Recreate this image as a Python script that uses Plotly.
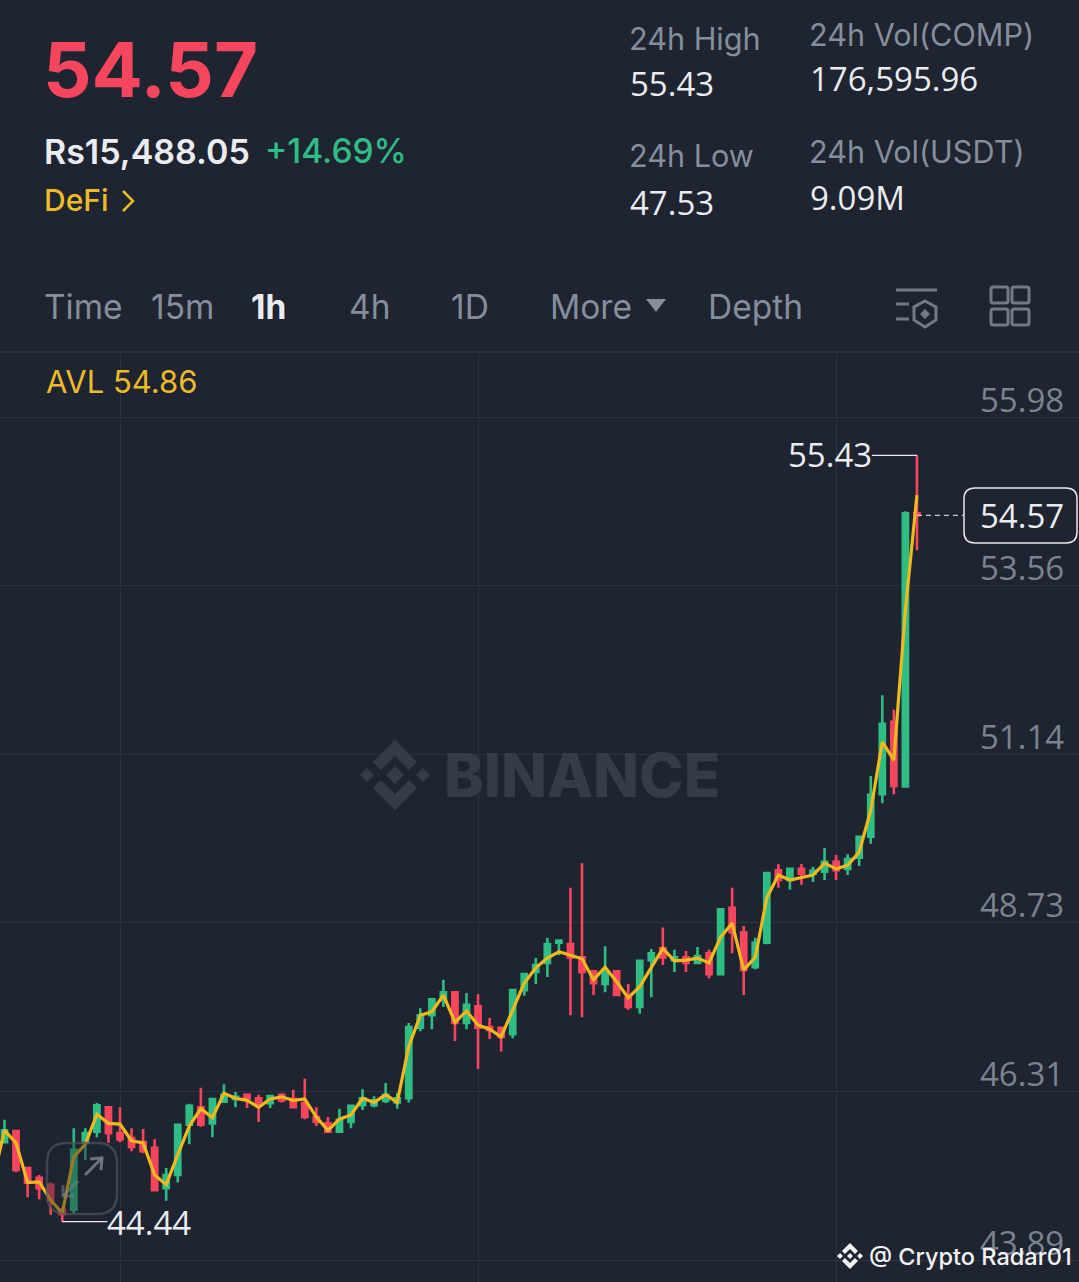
import plotly.graph_objects as go

# ---------- data ----------
candle_index = list(range(80))
open_ = [45.58,45.74,45.21,45.07,44.97,44.61,44.61,45.57,45.73,46.08,45.71,45.64,45.58,45.50,44.92,45.11,45.83,46.08,45.85,46.16,
         46.20,46.26,46.21,46.14,46.26,46.20,46.14,45.94,45.85,45.73,45.87,46.11,46.11,46.17,46.15,46.21,47.22,47.40,47.62,47.73,
         47.29,47.53,47.23,47.22,47.13,47.76,48.02,48.15,48.44,48.42,48.23,48.03,47.85,48.03,47.65,47.52,48.19,48.36,48.19,48.23,
         48.15,48.29,47.99,48.94,48.59,48.09,48.44,49.48,49.34,49.50,49.43,49.46,49.60,49.50,49.66,49.96,50.57,51.61,50.68,54.60]
high = [45.90,45.74,45.22,45.11,45.00,44.64,45.78,45.78,46.14,46.08,46.08,45.78,45.77,45.62,45.21,45.83,46.13,46.36,46.21,46.41,
        46.30,46.27,46.26,46.26,46.28,46.33,46.49,46.08,45.94,46.06,46.11,46.34,46.24,46.43,46.28,47.29,47.50,47.65,47.91,47.73,
        47.72,47.70,47.36,47.22,47.78,47.99,48.22,48.51,48.47,49.23,49.58,48.05,48.39,48.05,47.85,48.19,48.35,48.66,48.34,48.32,
        48.38,48.34,48.92,49.23,48.68,48.51,49.44,49.57,49.50,49.57,49.53,49.80,49.70,49.71,49.96,50.83,51.99,51.78,54.63,55.43]
low = [45.58,45.15,44.79,44.76,44.54,44.44,44.56,45.32,45.65,45.57,45.58,45.45,45.42,44.88,44.74,45.00,45.55,45.80,45.65,46.14,
       46.08,46.07,45.87,46.07,46.15,46.08,45.91,45.81,45.71,45.73,45.78,46.04,46.08,46.14,46.06,46.15,47.17,47.20,47.52,47.03,
       47.20,46.63,47.06,46.88,47.07,47.68,47.85,47.95,48.26,47.40,47.37,47.69,47.73,47.69,47.48,47.42,47.66,48.12,48.02,48.02,
       48.15,47.93,47.98,48.29,47.69,48.06,48.42,49.23,49.20,49.27,49.31,49.34,49.34,49.41,49.54,49.86,50.44,50.57,50.68,54.07]
close = [45.75,45.18,45.00,44.92,44.75,44.55,45.47,45.71,46.11,45.71,45.62,45.51,45.45,44.89,45.11,45.83,46.10,45.83,46.20,46.26,
         46.23,46.21,46.11,46.24,46.18,46.08,45.94,45.87,45.73,45.90,46.10,46.21,46.18,46.26,46.21,47.23,47.40,47.63,47.73,47.29,
         47.55,47.22,47.19,47.09,47.76,47.99,48.12,48.42,48.47,48.23,48.02,47.86,48.03,47.69,47.52,48.18,48.29,48.23,48.23,48.15,
         48.25,47.99,48.92,48.59,48.05,48.44,49.44,49.34,49.50,49.43,49.47,49.60,49.48,49.64,49.96,50.56,51.58,50.69,54.60,54.57]
ma_index = list(range(-1, 80))
ma_values = [45.04,45.75,45.57,45.00,45.01,44.75,44.56,45.37,45.55,45.98,45.85,45.84,45.60,45.57,45.11,44.97,45.40,45.81,46.06,45.93,46.28,
             46.21,46.18,46.08,46.20,46.23,46.18,46.20,45.94,45.75,45.91,45.97,46.21,46.15,46.26,46.15,46.95,47.40,47.45,47.69,47.30,
             47.46,47.26,47.20,47.09,47.48,47.86,48.08,48.22,48.31,48.26,48.21,47.91,48.09,47.88,47.65,47.81,48.09,48.36,48.18,48.19,
             48.22,48.15,48.52,48.72,48.05,48.23,49.08,49.41,49.34,49.38,49.41,49.58,49.50,49.55,49.74,50.34,51.32,51.06,53.21,54.86]
price_ticks = [55.98, 53.56, 51.14, 48.73, 46.31, 43.89]
time_grid = [10, 41, 72]
last_price = 54.57
stats = [("24h High", "55.43", 630, 39, 84), ("24h Low", "47.53", 630, 156, 202),
         ("24h Vol(COMP)", "176,595.96", 810, 35, 79), ("24h Vol(USDT)", "9.09M", 810, 151, 197)]
toolbar = [("Time", 45), ("15m", 152), ("1h", 252), ("4h", 350), ("1D", 452), ("More", 551), ("Depth", 709)]

# ---------- style ----------
W, H = 1079, 1282
BG = "#1e2430"; GRID = "#2d333e"; GREEN = "#2ebd85"; RED = "#f6465d"; YEL = "#edbb2a"
GRAY = "#848e9c"; WHITE = "#eaecef"; FONT = "Inter"; NUM = "Open Sans"

def px(x): return x / W
def py(y): return 1 - y / H

fig = go.Figure()
fig.add_trace(go.Candlestick(x=candle_index, open=open_, high=high, low=low, close=close,
    increasing=dict(line=dict(color=GREEN, width=2.6), fillcolor=GREEN),
    decreasing=dict(line=dict(color=RED, width=2.6), fillcolor=RED),
    whiskerwidth=0, showlegend=False, hoverinfo="skip"))
fig.add_trace(go.Scatter(x=ma_index, y=ma_values, mode="lines",
    line=dict(color="#f0b91e", width=3.2), showlegend=False, hoverinfo="skip"))

ann = []
def text(t, x, y, size, color, anchor="left", weight=400, family=FONT):
    ann.append(dict(text=t, x=px(x - 3), y=py(y), xref="paper", yref="paper", xanchor=anchor, yanchor="middle",
                    showarrow=False, font=dict(family=family, size=size, color=color, weight=weight)))

text("54.57", 44, 69, 76, RED, weight=700)
text("Rs15,488.05", 45, 151, 34, WHITE, weight=600)
text("+14.69%", 266, 151, 33.5, GREEN, weight=500)
text("DeFi", 45, 200, 30, YEL, weight=500)
for label, val, x, y1, y2 in stats:
    text(label, x, y1, 30.6, GRAY)
    text(val, x + 1, y2, 33, WHITE, weight=500, family=NUM)
for label, x in toolbar:
    text(label, x, 307, 33.5, WHITE if label == "1h" else GRAY, weight=700 if label == "1h" else 400)
text("AVL 54.86", 47, 381, 31, YEL)

# price axis labels sit above their grid lines
for v in price_ticks:
    ann.append(dict(text=f"{v:.2f}", x=px(1066), y=v, xref="paper", yref="y", xanchor="right", yanchor="middle",
                    yshift=18, showarrow=False, font=dict(family=NUM, size=33, color="#7b8390")))
# high / low / last labels
i_hi = high.index(max(high)); i_lo = low.index(min(low))
ann.append(dict(text=f"{max(high):.2f}", x=i_hi, y=max(high), xref="x", yref="y", xanchor="right", yanchor="middle",
                xshift=-43, yshift=1, showarrow=False, font=dict(family=NUM, size=33, color=WHITE)))
ann.append(dict(text=f"{min(low):.2f}", x=i_lo, y=min(low), xref="x", yref="y", xanchor="left", yanchor="middle",
                xshift=43, yshift=-1, showarrow=False, font=dict(family=NUM, size=33, color=WHITE)))
ann.append(dict(text=f"{last_price:.2f}", x=px(1066), y=last_price, xref="paper", yref="y", xanchor="right", yanchor="middle",
                showarrow=False, font=dict(family=NUM, size=33, color=WHITE)))
# watermarks
text("BINANCE", 445, 775, 60, "#363c47", weight=800)
text("@ Crypto Radar01", 870, 1256, 23.5, "#f2f2f2", weight=500)

shapes = []
def pline(x0, y0, x1, y1, color, width=2, dash="solid", op=1, layer="above"):
    shapes.append(dict(type="line", xref="paper", yref="paper", x0=px(x0), y0=py(y0), x1=px(x1), y1=py(y1),
                       line=dict(color=color, width=width, dash=dash), opacity=op, layer=layer))
def ppath(points, fill=None, color=None, width=0, op=1, close_=True, layer="above"):
    d = "M " + " L ".join(f"{px(x):.5f},{py(y):.5f}" for x, y in points) + (" Z" if close_ else "")
    shapes.append(dict(type="path", xref="paper", yref="paper", path=d, fillcolor=fill or "rgba(0,0,0,0)",
                       line=dict(color=color or "rgba(0,0,0,0)", width=width), opacity=op, layer=layer))
def prrect(x0, y0, x1, y1, r, fill=None, color=None, width=2, op=1, layer="above"):
    X0, X1, Y0, Y1 = px(x0), px(x1), py(y0), py(y1)
    rx, ry = r / W, r / H
    d = (f"M {X0+rx},{Y0} L {X1-rx},{Y0} Q {X1},{Y0} {X1},{Y0-ry} L {X1},{Y1+ry} Q {X1},{Y1} {X1-rx},{Y1} "
         f"L {X0+rx},{Y1} Q {X0},{Y1} {X0},{Y1+ry} L {X0},{Y0-ry} Q {X0},{Y0} {X0+rx},{Y0} Z")
    shapes.append(dict(type="path", xref="paper", yref="paper", path=d, fillcolor=fill or "rgba(0,0,0,0)",
                       line=dict(color=color or "rgba(0,0,0,0)", width=width), opacity=op, layer=layer))

# separator above the chart
pline(0, 352, 1079, 352, GRID, 2)
# chevron
ppath([(123, 191), (133, 201), (123, 211)], color=YEL, width=2.5, close_=False)
# "More" triangle
ppath([(646, 299), (666, 299), (656, 312)], fill=GRAY)
# depth icon
ICON = "#727a86"
pline(896, 290, 937, 290, ICON, 3)
pline(896, 304, 909, 304, ICON, 3)
pline(896, 319, 909, 319, ICON, 3)
ppath([(925, 301), (936, 307), (936, 320), (925, 327), (914, 320), (914, 307)], color=ICON, width=3)
ppath([(925, 309), (930, 314), (925, 319), (920, 314)], fill=ICON)
# layout icon
for (a, b) in [(991, 287), (1012, 287), (991, 309), (1012, 309)]:
    prrect(a, b, a + 17, b + 16, 2, color=ICON, width=3)

# high / low leader lines and last price dashes, tied to the data
shapes.append(dict(type="line", xref="x", yref="y", x0=i_hi, x1=i_hi - 3.9, y0=max(high), y1=max(high), line=dict(color=WHITE, width=1.3)))
shapes.append(dict(type="line", xref="x", yref="y", x0=i_lo, x1=i_lo + 3.9, y0=min(low), y1=min(low), line=dict(color=WHITE, width=1.3)))
shapes.append(dict(type="line", xref="x", yref="y", x0=79, x1=83.1, y0=last_price, y1=last_price, line=dict(color="#c8ccd2", width=1.3, dash="5px,4px")))
prrect(964, 488, 1077, 543, 11, fill=BG, color="#e6e8ea", width=1.5)

# Binance logo (watermark)
def diamond(cx, cy, r): return [(cx, cy - r), (cx + r, cy), (cx, cy + r), (cx - r, cy)]
LOGO = "#363c47"
ppath(diamond(395, 775, 9), fill=LOGO)
ppath(diamond(367, 775, 7), fill=LOGO)
ppath(diamond(423, 775, 7), fill=LOGO)
ppath([(395, 740), (417, 762), (409, 770), (395, 756), (381, 770), (373, 762)], fill=LOGO)
ppath([(395, 810), (417, 788), (409, 780), (395, 794), (381, 780), (373, 788)], fill=LOGO)
# small logo next to author name
LW = "#f2f2f2"
ppath(diamond(850, 1256, 3), fill=LW)
ppath(diamond(840, 1256, 3), fill=LW)
ppath(diamond(860, 1256, 3), fill=LW)
ppath([(850, 1243), (858, 1251), (855, 1254), (850, 1249), (845, 1254), (842, 1251)], fill=LW)
ppath([(850, 1269), (858, 1261), (855, 1258), (850, 1263), (845, 1258), (842, 1261)], fill=LW)
# fullscreen overlay button
prrect(47, 1143, 117, 1214, 20, fill="rgba(30,36,48,0.55)", color="#4a505b", width=2.5, op=0.75)
A = "#7b818c"
pline(85, 1175, 102, 1158, A, 3, op=0.85); ppath([(90, 1159), (102, 1158), (101, 1170)], color=A, width=3, close_=False, op=0.85)
pline(78, 1181, 63, 1196, A, 3, op=0.55); ppath([(63, 1185), (63, 1196), (74, 1196)], color=A, width=3, close_=False, op=0.55)

TOP = (H - 352) / H
s = 2.418 / 168.6  # price per pixel
y_max = 55.98 + (417 - 352) * s
y_min = 43.89 - (1282 - 1260) * s
fig.update_layout(
    width=W, height=H, margin=dict(l=0, r=0, t=0, b=0), autosize=False,
    paper_bgcolor=BG, plot_bgcolor=BG, showlegend=False, boxgap=0.36,
    font=dict(family=FONT),
    xaxis=dict(domain=[0, 1], range=[-4.5 / 11.55, (1079 - 4.5) / 11.55], rangeslider=dict(visible=False),
               tickmode="array", tickvals=time_grid, showticklabels=False, showgrid=True, gridcolor=GRID, gridwidth=1.3,
               zeroline=False, showline=False, ticks=""),
    yaxis=dict(domain=[0, TOP], range=[y_min, y_max], tickmode="array", tickvals=price_ticks, showticklabels=False,
               showgrid=True, gridcolor=GRID, gridwidth=1.3, zeroline=False, showline=False, ticks=""),
    annotations=ann, shapes=shapes,
)
fig.write_html("out.html", config={"displayModeBar": False},
               post_script="document.body.style.margin='0';document.documentElement.style.background='#1e2430';")
